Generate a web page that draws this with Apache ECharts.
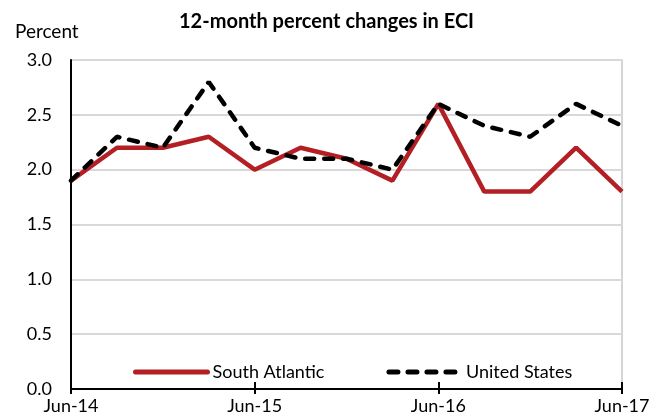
<!DOCTYPE html>
<html><head><meta charset="utf-8">
<script src="https://cdn.jsdelivr.net/npm/echarts@6/dist/echarts.min.js"></script>
<style>html,body{margin:0;padding:0;background:#fff}#c{width:665px;height:419px}</style>
</head><body><div id="c"></div>
<script>
const categories = ['Jun-14','Sep-14','Dec-14','Mar-15','Jun-15','Sep-15','Dec-15','Mar-16','Jun-16','Sep-16','Dec-16','Mar-17','Jun-17'];
const southAtlantic = [1.9, 2.2, 2.2, 2.3, 2.0, 2.2, 2.1, 1.9, 2.6, 1.8, 1.8, 2.2, 1.8];
const unitedStates = [1.9, 2.3, 2.2, 2.8, 2.2, 2.1, 2.1, 2.0, 2.6, 2.4, 2.3, 2.6, 2.4];
const yTicks = {min: 0, max: 3, interval: 0.5};
const font = 'Lato, "Open Sans", sans-serif';

const chart = echarts.init(document.getElementById('c'));
chart.setOption({
  animation: false,
  title: {text: '12-month percent changes in ECI', left: 174, top: 7,
    textStyle: {fontFamily: font, fontSize: 20, fontWeight: 'bold', color: '#000'}},
  graphic: [{type: 'text', left: 15, top: 22, style: {text: 'Percent', font: '19px ' + font, fill: '#000'}}],
  legend: {left: 128, top: 358, itemWidth: 72, itemHeight: 14, itemGap: 62,
    itemStyle: {opacity: 0},
    lineStyle: {width: 5, cap: 'round'},
    textStyle: {fontFamily: font, fontSize: 18, color: '#000'},
    data: ['South Atlantic', 'United States']},
  grid: {left: 71, right: 43, top: 60, bottom: 30, show: true, borderColor: '#c8c8c8', borderWidth: 1.5},
  xAxis: [{
    type: 'category', data: categories, boundaryGap: false,
    axisLine: {lineStyle: {color: '#000', width: 2}},
    axisTick: {interval: 3, length: 5, lineStyle: {color: '#000', width: 2}},
    axisLabel: {interval: 3, fontFamily: font, fontSize: 18, color: '#000', margin: 8},
    splitLine: {show: false}
  }, {
    type: 'category', data: categories, boundaryGap: false, position: 'top', offset: -329,
    axisLine: {show: false},
    axisTick: {interval: 3, length: 7, lineStyle: {color: '#000', width: 2}},
    axisLabel: {show: false}, splitLine: {show: false}
  }],
  yAxis: {
    type: 'value', min: yTicks.min, max: yTicks.max, interval: yTicks.interval,
    axisLine: {show: true, lineStyle: {color: '#000', width: 2}},
    axisTick: {show: false},
    axisLabel: {fontFamily: font, fontSize: 18, color: '#000', margin: 19, formatter: v => v.toFixed(1)},
    splitLine: {lineStyle: {color: '#d9d9d9', width: 2}}
  },
  series: [{
    name: 'South Atlantic', type: 'line', data: southAtlantic, symbol: 'none', z: 3,
    lineStyle: {color: '#b31f24', width: 4.5}, itemStyle: {color: '#b31f24'}
  }, {
    name: 'United States', type: 'line', data: unitedStates, symbol: 'none', z: 4,
    lineStyle: {color: '#000', width: 4.5, type: [9, 10], cap: 'round'}, itemStyle: {color: '#000'}
  }]
});
</script></body></html>
